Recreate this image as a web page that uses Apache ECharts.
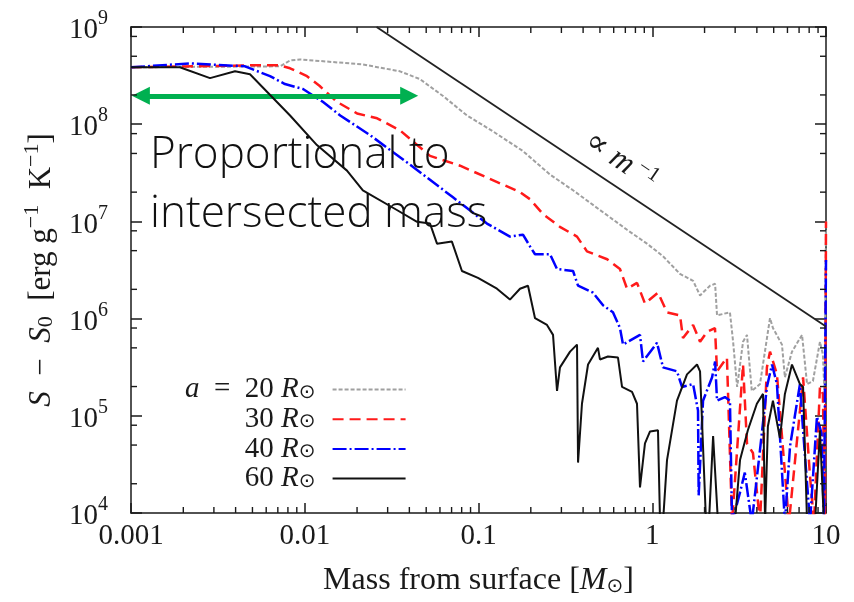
<!DOCTYPE html>
<html><head><meta charset="utf-8">
<script src="https://cdn.jsdelivr.net/npm/echarts@6/dist/echarts.min.js"></script>
<style>html,body{margin:0;padding:0;background:#fff}#c{width:854px;height:602px}</style>
</head><body><div id="c"></div>
<script>
// ---- data ----
const seriesNames = ['a = 20 R⊙', '30 R⊙', '40 R⊙', '60 R⊙'];
const xTickLabels = ['0.001', '0.01', '0.1', '1', '10'];
const xMinorTicks = [0.002,0.003,0.004,0.005,0.006,0.007,0.008,0.009,
  0.02,0.03,0.04,0.05,0.06,0.07,0.08,0.09,
  0.2,0.3,0.4,0.5,0.6,0.7,0.8,0.9,
  2,3,4,5,6,7,8,9];
const yMinorTicks = [2e4,5e4,8e4,2e5,5e5,8e5,2e6,5e6,8e6,2e7,5e7,8e7,2e8,5e8,8e8];

const mass20 = [0.001,0.0072,0.00823,0.0094,0.0216,0.0353,0.046,0.0625,0.0859,0.121,0.18,0.258,0.35,0.5,0.716,0.933,1.153,1.445,1.718,1.884,2.15,2.30,2.36,2.8,2.92,3.08,3.33,3.51,3.74,4.17,4.76,4.95,5.58,5.8,6.37,7.28,7.78,8.41,9.23,9.6,9.8,10];
const s20 = [3.85e8,3.94e8,4.53e8,4.64e8,4.12e8,3.5e8,2.91e8,1.95e8,1.23e8,8.45e7,5.3e7,3.03e7,2.09e7,1.31e7,8.2e6,5.9e6,4.38e6,2.88e6,2.45e6,1.73e6,2.18e6,2.28e6,1.08e6,1.16e6,5.77e5,1.98e5,5.77e5,6.8e5,1.8e5,2.12e5,1.01e6,8.0e5,5.4e5,2.49e5,4.57e5,6.8e5,2.12e5,2.28e5,5.77e5,4.26e5,1.68e5,1e7];

const mass30 = [0.001,0.00484,0.0072,0.00823,0.0103,0.0122,0.0153,0.020,0.0261,0.0353,0.0526,0.0783,0.1733,0.198,0.235,0.294,0.369,0.421,0.55,0.652,0.716,0.817,0.908,1.079,1.216,1.445,1.503,1.718,1.884,2.066,2.296,2.36,2.69,2.88,3.33,3.51,3.8,4.17,4.57,4.76,5.22,6.12,7.08,7.38,8.09,8.53,9.23,9.6,9.85,10];
const s30 = [3.85e8,4.03e8,4.03e8,3.76e8,3.12e8,2.47e8,1.70e8,1.29e8,1.15e8,8.65e7,4.72e7,3.74e7,2.0e7,1.69e7,1.19e7,8.8e6,6.98e6,4.92e6,4.08e6,3.24e6,2.03e6,2.33e6,1.43e6,1.85e6,1.16e6,1.08e6,6.3e5,8.6e5,5.77e5,7.3e5,8.0e5,2.87e5,3.97e5,8e3,3.37e5,5.2e4,4.14e4,8e3,3.15e5,4.57e5,2.67e5,8e3,1.13e5,2.49e5,2.4e4,8e3,1.98e5,1.68e5,8e3,1e7];

const mass40 = [0.001,0.00219,0.00453,0.00631,0.00769,0.00977,0.0127,0.016,0.0238,0.0404,0.0713,0.1119,0.1517,0.1803,0.198,0.2115,0.258,0.283,0.35,0.374,0.456,0.521,0.594,0.652,0.679,0.85,0.885,1.065,1.153,1.388,1.483,1.718,1.834,1.85,1.96,2.21,2.30,2.36,2.62,2.8,2.88,3.2,3.41,3.74,4.17,4.57,4.89,5.22,5.8,6.21,7.08,7.38,8.09,8.87,9.42,9.73,10];
const s40 = [3.85e8,4.22e8,3.94e8,3.12e8,2.59e8,2.3e8,1.70e8,1.23e8,7.7e7,3.83e7,1.77e7,9.5e6,6.98e6,7.3e6,5.53e6,4.59e6,4.59e6,3.24e6,3.09e6,2.18e6,1.85e6,1.37e6,1.16e6,8.0e5,5.4e5,6.8e5,3.62e5,5.64e5,3.15e5,2.87e5,1.98e5,2.12e5,1.13e5,1.52e4,1.43e5,2.49e5,3.62e5,1.43e5,1.56e5,1.43e5,8e3,1.63e4,2.6e4,8e3,4.45e4,1.98e5,3.37e5,2.12e5,8e3,4.88e4,2.12e5,7.1e4,8e3,9.8e4,6.6e4,8e3,4e6];

const mass60 = [0.001,0.00191,0.00285,0.00397,0.00484,0.00823,0.01175,0.0175,0.0216,0.0339,0.0443,0.0526,0.0577,0.0703,0.0803,0.0993,0.1277,0.1517,0.1733,0.1927,0.2115,0.2478,0.2685,0.2831,0.2944,0.3365,0.369,0.374,0.394,0.427,0.487,0.5,0.556,0.635,0.67,0.765,0.817,0.85,0.908,0.971,1.079,1.109,1.153,1.216,1.388,1.585,1.81,1.884,2.04,2.12,2.24,2.39,2.99,3.2,3.55,4.0,4.34,4.46,4.63,4.95,5.43,5.8,6.37,7.08,7.38,7.78,8.65,9.23,9.73];
const s60 = [3.85e8,3.85e8,2.98e8,3.5e8,3.27e8,1.23e8,6.1e7,3.33e7,2.09e7,1.31e7,9.9e6,9.5e6,5.9e6,6.2e6,3.09e6,2.62e6,2.03e6,1.57e6,2.03e6,2.18e6,1.01e6,8.6e5,6.8e5,1.8e5,3.15e5,4.57e5,5.4e5,3.3e4,1.33e5,3.37e5,5.0e5,3.8e5,4.07e5,3.97e5,1.98e5,1.76e5,1.33e5,1.83e4,5.2e4,6.9e4,7.1e4,8e3,8e3,3.5e4,1.43e5,2.67e5,3.37e5,2.87e5,8e3,8e3,6.2e4,8e3,8e3,3.5e4,7.1e4,1.33e5,1.68e5,8e3,7.8e4,1.43e5,5.9e4,1.68e5,3.37e5,2.12e5,1.98e5,8e3,8e3,7.1e4,8e3];

const refMass = [0.0259, 10];
const refS = [1e9, 8.3e5];

const arrowMass = [0.00114, 0.0399];
const arrowS = 1.96e8;

// ---- build ----
const zip = (a, b) => a.map((v, i) => [v, b[i]]);
const SERIF = '"Liberation Serif", "DejaVu Serif", serif';
const SYM = '"DejaVu Sans", sans-serif';
const INK = '#1a1a1a';

const chart = echarts.init(document.getElementById('c'), null, {renderer: 'canvas'});

function legendText(name) {
  const i = seriesNames.indexOf(name);
  const num = ['20', '30', '40', '60'][i];
  const pre = i === 0 ? '{i|a}{n|  =  }' : '';
  return pre + '{n|' + num + ' }{i|R}{s|⊙}{g|}';
}

const lineCommon = {type: 'line', symbol: 'none', showSymbol: false, clip: true, silent: true, animation: false};

const option = {
  animation: false,
  backgroundColor: '#fff',
  grid: {left: 131, right: 28, top: 27, bottom: 81},
  xAxis: [{
    type: 'log', logBase: 10, min: 0.001, max: 10, position: 'bottom',
    axisLine: {show: true, onZero: false, lineStyle: {color: INK, width: 1.5}},
    axisTick: {show: true, inside: true, length: 10, lineStyle: {color: INK, width: 1.5}},
    splitLine: {show: false},
    axisLabel: {
      margin: 9, color: INK, fontFamily: SERIF, fontSize: 29,
      formatter: v => xTickLabels[Math.round(Math.log10(v)) + 3]
    },
    name: '{n|Mass from surface [}{i|M}{s|⊙}{n|]}',
    nameLocation: 'middle', nameGap: 52,
    nameTextStyle: {
      rich: {
        n: {fontFamily: SERIF, fontSize: 32, color: INK},
        i: {fontFamily: SERIF, fontSize: 32, fontStyle: 'italic', color: INK},
        s: {fontFamily: SYM, fontSize: 20, color: INK, padding: [12, 0, 0, 0]}
      }
    }
  }, {
    type: 'log', logBase: 10, min: 0.001, max: 10, position: 'top',
    axisLine: {show: true, onZero: false, lineStyle: {color: INK, width: 1.5}},
    axisTick: {show: true, inside: true, length: 10, lineStyle: {color: INK, width: 1.5}},
    splitLine: {show: false}, axisLabel: {show: false}
  }],
  yAxis: [{
    type: 'log', logBase: 10, min: 1e4, max: 1e9, position: 'left',
    axisLine: {show: true, onZero: false, lineStyle: {color: INK, width: 1.5}},
    axisTick: {show: true, inside: true, length: 11, lineStyle: {color: INK, width: 1.5}},
    splitLine: {show: false},
    axisLabel: {
      margin: 23, color: INK,
      formatter: v => '{b|10}{e|' + Math.round(Math.log10(v)) + '}',
      rich: {
        b: {fontFamily: SERIF, fontSize: 29, color: INK, verticalAlign: 'bottom', lineHeight: 36},
        e: {fontFamily: SERIF, fontSize: 20, color: INK, verticalAlign: 'top', lineHeight: 36}
      }
    },
    name: '{i|S}{n|  −  }{i|S}{sub|0}{n|  [erg g}{sup|−1}{n|  K}{sup|−1}{n|]}',
    nameLocation: 'middle', nameGap: 74,
    nameTextStyle: {
      rich: {
        n: {fontFamily: SERIF, fontSize: 31, color: INK, verticalAlign: 'bottom', lineHeight: 36},
        i: {fontFamily: SERIF, fontSize: 31, fontStyle: 'italic', color: INK, verticalAlign: 'bottom', lineHeight: 36},
        sub: {fontFamily: SERIF, fontSize: 22, color: INK, verticalAlign: 'bottom', lineHeight: 32},
        sup: {fontFamily: SERIF, fontSize: 22, color: INK, verticalAlign: 'top', lineHeight: 36}
      }
    }
  }, {
    type: 'log', logBase: 10, min: 1e4, max: 1e9, position: 'right',
    axisLine: {show: true, onZero: false, lineStyle: {color: INK, width: 1.5}},
    axisTick: {show: true, inside: true, length: 11, lineStyle: {color: INK, width: 1.5}},
    splitLine: {show: false}, axisLabel: {show: false}
  }],
  legend: {
    data: seriesNames,
    orient: 'vertical', align: 'right',
    left: 180, top: 370,
    itemWidth: 73, itemHeight: 14, itemGap: 0.7,
    selectedMode: false,
    itemStyle: {opacity: 0},
    formatter: legendText,
    textStyle: {
      rich: {
        n: {fontFamily: SERIF, fontSize: 29, color: INK, lineHeight: 26},
        i: {fontFamily: SERIF, fontSize: 29, fontStyle: 'italic', color: INK, lineHeight: 26},
        s: {fontFamily: SYM, fontSize: 20, color: INK, lineHeight: 12, verticalAlign: 'bottom'},
        g: {width: 12, lineHeight: 26}
      }
    }
  },
  graphic: [
    {
      type: 'text', left: 150, top: 126, silent: true, z: 100,
      style: {
        text: 'Proportional to\nintersected mass',
        font: '300 44px "Open Sans", "Lato", sans-serif',
        fill: '#111', lineHeight: 59
      }
    },
    {
      type: 'text', x: 621, y: 161, rotation: -0.60, silent: true, z: 100,
      style: {
        text: '{n|∝ }{i|m}{s| −1}',
        align: 'center', verticalAlign: 'middle',
        rich: {
          n: {fontFamily: SERIF, fontSize: 32, fill: INK},
          i: {fontFamily: SERIF, fontSize: 32, fontStyle: 'italic', fill: INK},
          s: {fontFamily: SERIF, fontSize: 21, fill: INK, padding: [0, 0, 14, 0]}
        }
      }
    }
  ],
  series: [
    Object.assign({}, lineCommon, {
      name: seriesNames[0], data: zip(mass20, s20), z: 2,
      lineStyle: {color: '#a0a0a0', width: 2, type: [4, 2]}, itemStyle: {color: '#a0a0a0'}
    }),
    Object.assign({}, lineCommon, {
      name: seriesNames[1], data: zip(mass30, s30), z: 3,
      lineStyle: {color: '#ff1a1a', width: 2.5, type: [11, 6]}, itemStyle: {color: '#ff1a1a'}
    }),
    Object.assign({}, lineCommon, {
      name: seriesNames[2], data: zip(mass40, s40), z: 4,
      lineStyle: {color: '#0000ff', width: 2.5, type: [14, 3, 2, 3]}, itemStyle: {color: '#0000ff'}
    }),
    Object.assign({}, lineCommon, {
      name: seriesNames[3], data: zip(mass60, s60), z: 5,
      lineStyle: {color: '#111', width: 2}, itemStyle: {color: '#111'}
    }),
    Object.assign({}, lineCommon, {
      name: 'ref', data: zip(refMass, refS), z: 6,
      lineStyle: {color: '#222', width: 1.8}, itemStyle: {color: '#222'},
      markLine: {
        silent: true, animation: false,
        symbol: ['triangle', 'triangle'], symbolSize: [18, 18],
        lineStyle: {color: '#00B050', width: 5, type: 'solid'},
        itemStyle: {color: '#00B050'},
        label: {show: false},
        data: [[{coord: [arrowMass[0], arrowS]}, {coord: [arrowMass[1], arrowS]}]]
      }
    }),
    {
      type: 'custom', name: 'xminor', silent: true, clip: false, z: 10, animation: false,
      data: xMinorTicks.map(v => [v, 1e4]),
      renderItem: function (params, api) {
        const cs = params.coordSys;
        const px = api.coord([api.value(0), 1e4])[0];
        const st = {stroke: INK, lineWidth: 1.4};
        return {type: 'group', children: [
          {type: 'line', shape: {x1: px, y1: cs.y + cs.height, x2: px, y2: cs.y + cs.height - 6}, style: st},
          {type: 'line', shape: {x1: px, y1: cs.y, x2: px, y2: cs.y + 6}, style: st}
        ]};
      }
    },
    {
      type: 'custom', name: 'yminor', silent: true, clip: false, z: 10, animation: false,
      data: yMinorTicks.map(v => [1, v]),
      renderItem: function (params, api) {
        const cs = params.coordSys;
        const py = api.coord([1, api.value(1)])[1];
        const st = {stroke: INK, lineWidth: 1.4};
        return {type: 'group', children: [
          {type: 'line', shape: {x1: cs.x, y1: py, x2: cs.x + 6, y2: py}, style: st},
          {type: 'line', shape: {x1: cs.x + cs.width, y1: py, x2: cs.x + cs.width - 6, y2: py}, style: st}
        ]};
      }
    }
  ]
};
chart.setOption(option);
</script>
</body></html>
